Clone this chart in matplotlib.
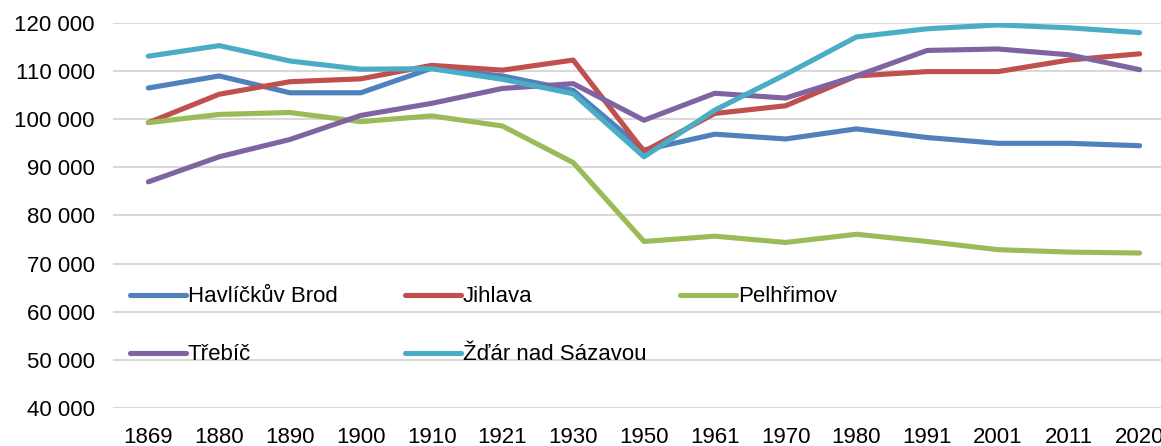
import matplotlib
matplotlib.use("Agg")
import matplotlib.pyplot as plt
from matplotlib.ticker import FuncFormatter

years = ["1869", "1880", "1890", "1900", "1910", "1921", "1930", "1950",
         "1961", "1970", "1980", "1991", "2001", "2011", "2020"]

havlickuv_brod = [106500, 109000, 105500, 105500, 110600, 109000, 106000, 93600,
                  96900, 95900, 98000, 96200, 95000, 95000, 94500]
jihlava = [99300, 105200, 107800, 108400, 111200, 110200, 112300, 93300,
           101200, 102800, 109000, 109900, 109900, 112300, 113600]
pelhrimov = [99300, 101000, 101400, 99500, 100700, 98600, 91000, 74600,
             75700, 74400, 76100, 74600, 72900, 72400, 72200]
trebic = [87000, 92200, 95800, 100800, 103300, 106400, 107400, 99800,
          105400, 104400, 109000, 114300, 114600, 113400, 110300]
zdar = [113100, 115300, 112100, 110400, 110500, 108300, 105300, 92200,
        101900, 109300, 117100, 118800, 119600, 119000, 118000]

series = [
    ("Havlíčkův Brod", havlickuv_brod, "#4f81bd"),
    ("Jihlava", jihlava, "#c0504d"),
    ("Pelhřimov", pelhrimov, "#9bbb59"),
    ("Třebíč", trebic, "#8064a2"),
    ("Žďár nad Sázavou", zdar, "#4bacc6"),
]

plt.rcParams["font.family"] = ["Liberation Sans", "DejaVu Sans"]

W, H = 1161, 446
fig = plt.figure(figsize=(W / 100, H / 100), dpi=100)
left, right, top, bottom = 113, 1175, 23, 408
ax = fig.add_axes([left / W, (H - bottom) / H, (right - left) / W, (bottom - top) / H])

x = list(range(len(years)))
handles = {}
for name, values, color in series:
    line, = ax.plot(x, values, color=color, lw=3.7, solid_capstyle="round",
                    solid_joinstyle="round", label=name)
    handles[name] = line

ax.set_xlim(-0.5, len(years) - 0.5)
ax.set_ylim(40000, 120000)
ax.set_yticks(range(40000, 120001, 10000))
ax.yaxis.set_major_formatter(FuncFormatter(lambda v, p: f"{int(v):,}".replace(",", " ")))
ax.set_xticks(x)
ax.set_xticklabels(years)
ax.tick_params(axis="both", length=0, labelsize=16, colors="black")
ax.tick_params(axis="y", pad=13)
ax.tick_params(axis="x", pad=14)
ax.grid(axis="y", color="#d9d9d9", lw=1.5)
ax.set_axisbelow(True)
for s in ax.spines.values():
    s.set_visible(False)

# Excel-style legend: fixed grid of entries (x px, y px from top)
legend_pos = {
    "Havlíčkův Brod": (130, 297),
    "Jihlava": (405, 297),
    "Pelhřimov": (680, 297),
    "Třebíč": (130, 355),
    "Žďár nad Sázavou": (405, 355),
}
for name, (px, py) in legend_pos.items():
    fig.legend([handles[name]], [name], loc="center left",
               bbox_to_anchor=(px / W, (H - py) / H),
               frameon=False, fontsize=16, borderpad=0, borderaxespad=0,
               handlelength=2.5, handletextpad=0.1)

fig.savefig("out.png", dpi=100)
